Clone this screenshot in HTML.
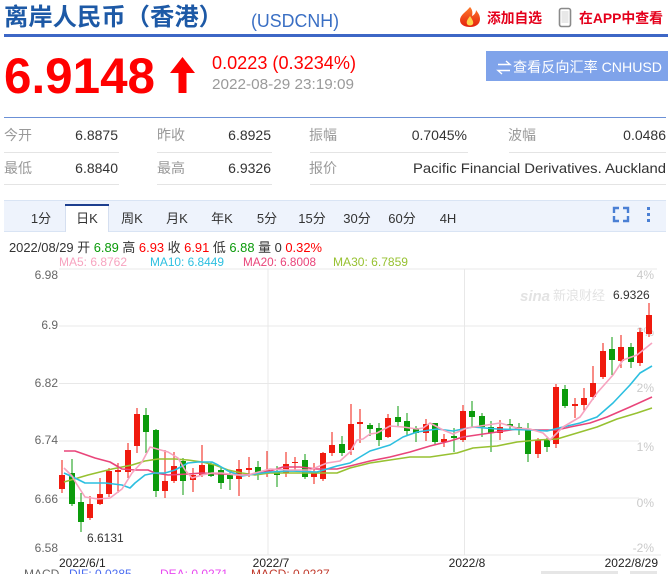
<!DOCTYPE html>
<html><head><meta charset="utf-8">
<style>
html,body{margin:0;padding:0;background:#fff;}
body{width:670px;height:574px;overflow:hidden;position:relative;}
svg{position:absolute;left:0;top:0;}
text{font-family:"Liberation Sans","Noto Sans CJK SC",sans-serif;}
</style></head>
<body>
<svg width="670" height="574" viewBox="0 0 670 574" xmlns="http://www.w3.org/2000/svg">
<defs>
<linearGradient id="fire" x1="0" y1="0" x2="0" y2="1">
<stop offset="0" stop-color="#ff7a2a"/><stop offset="1" stop-color="#e3200d"/>
</linearGradient>
</defs>
<!-- Header -->
<text x="4" y="25" font-size="24" font-weight="bold" fill="#1d59a6" textLength="219" lengthAdjust="spacingAndGlyphs">离岸人民币（香港）</text>
<text x="251" y="27" font-size="18" fill="#3a6fc4" textLength="88" lengthAdjust="spacingAndGlyphs">(USDCNH)</text>
<path d="M470,7 C466,12 460,15 460,20 C460,25 465,27 470,27 C476,27 480,24 480,19 C480,15 478,13 476,10 C476,13 474,15 472,16 C473,12 472,9 470,7 Z" fill="url(#fire)"/>
<path d="M470,16 C468,19 466,21 467,24 C468,26 472,26 473,24 C474,22 472,19 470,16 Z" fill="#ffd24a"/>
<text x="487" y="23" font-size="14" font-weight="bold" fill="#e4001b" textLength="55" lengthAdjust="spacingAndGlyphs">添加自选</text>
<rect x="559.5" y="8.5" width="11" height="18" rx="2" fill="none" stroke="#8a8a8a" stroke-width="1.6"/>
<rect x="561.5" y="11" width="7" height="12" fill="#e8e8e8"/>
<text x="579" y="23" font-size="14" font-weight="bold" fill="#e4001b" textLength="84" lengthAdjust="spacingAndGlyphs">在APP中查看</text>
<rect x="4" y="34" width="664" height="3" fill="#3d67c6"/>

<text x="4" y="93" font-size="50" font-weight="bold" fill="#f00" textLength="151" lengthAdjust="spacingAndGlyphs">6.9148</text>
<polygon points="182.5,57 195,73 186.5,73 186.5,93 178.5,93 178.5,73 170,73" fill="#f00"/>
<text x="212" y="69" font-size="18" fill="#f00" textLength="144" lengthAdjust="spacingAndGlyphs">0.0223 (0.3234%)</text>
<text x="212" y="89" font-size="15" fill="#9a9a9a" textLength="142" lengthAdjust="spacingAndGlyphs">2022-08-29 23:19:09</text>

<rect x="486" y="51" width="182" height="30" fill="#7fa3ea"/>
<path d="M498,64.5 H510 L506,61" fill="none" stroke="#fff" stroke-width="1.4"/>
<path d="M510,70.5 H498 L502,74" fill="none" stroke="#fff" stroke-width="1.4"/>
<text x="513" y="72" font-size="14" fill="#fff" textLength="149" lengthAdjust="spacingAndGlyphs">查看反向汇率 CNHUSD</text>

<rect x="4" y="117" width="662" height="1" fill="#6b90d6"/>
<!-- table -->
<g font-size="14" fill="#999">
<text x="4" y="140">今开</text><text x="157" y="140">昨收</text><text x="309" y="140">振幅</text><text x="508" y="140">波幅</text>
<text x="4" y="173">最低</text><text x="157" y="173">最高</text><text x="309" y="173">报价</text>
</g>
<g font-size="14" fill="#333" text-anchor="end">
<text x="118" y="140">6.8875</text><text x="271" y="140">6.8925</text><text x="467" y="140">0.7045%</text><text x="666" y="140">0.0486</text>
<text x="118" y="173">6.8840</text><text x="271" y="173">6.9326</text>
</g>
<text x="413" y="173" font-size="14" fill="#333" textLength="253" lengthAdjust="spacingAndGlyphs">Pacific Financial Derivatives. Auckland</text>
<g fill="#e4e4e4">
<rect x="4" y="152" width="115" height="1"/><rect x="157" y="152" width="115" height="1"/><rect x="310" y="152" width="158" height="1"/><rect x="509" y="152" width="157" height="1"/>
<rect x="4" y="184" width="115" height="1"/><rect x="157" y="184" width="115" height="1"/><rect x="310" y="184" width="356" height="1"/>
</g>

<!-- tab bar -->
<rect x="4" y="201" width="662" height="31" fill="#eef3fc"/>
<rect x="4" y="200" width="662" height="1" fill="#d9e4f4"/>
<rect x="4" y="231" width="662" height="1" fill="#d9e4f4"/>
<rect x="65" y="204" width="44" height="28" fill="#fff"/>
<rect x="65" y="204" width="44" height="2" fill="#1d3f8f"/>
<rect x="65" y="206" width="1" height="26" fill="#d5dff0"/>
<rect x="108" y="206" width="1" height="26" fill="#d5dff0"/>
<g font-size="13" fill="#333" text-anchor="middle">
<text x="41" y="223">1分</text><text x="87" y="223">日K</text><text x="132" y="223">周K</text><text x="177" y="223">月K</text><text x="222" y="223">年K</text>
<text x="267" y="223">5分</text><text x="312" y="223">15分</text><text x="357" y="223">30分</text><text x="402" y="223">60分</text><text x="448" y="223">4H</text>
</g>
<g fill="none" stroke="#4a7fd4" stroke-width="2.4">
<path d="M614,213 V208 H619"/><path d="M623,208 H628 V213"/><path d="M614,216 V221 H619"/><path d="M623,221 H628 V216"/>
</g>
<g fill="#4a7fd4"><rect x="647" y="207" width="3" height="3"/><rect x="647" y="213" width="3" height="3"/><rect x="647" y="219" width="3" height="3"/></g>

<!-- info line -->
<text x="9" y="252" font-size="13" fill="#333" textLength="313" lengthAdjust="spacingAndGlyphs">2022/08/29 开 <tspan fill="#0a9a0a">6.89</tspan> 高 <tspan fill="#f00">6.93</tspan> 收 <tspan fill="#f00">6.91</tspan> 低 <tspan fill="#0a9a0a">6.88</tspan> 量 0 <tspan fill="#f00">0.32%</tspan></text>
<g font-size="12">
<text x="59" y="266" fill="#f7a3bf" textLength="68" lengthAdjust="spacingAndGlyphs">MA5: 6.8762</text>
<text x="150" y="266" fill="#2cbfe0" textLength="74" lengthAdjust="spacingAndGlyphs">MA10: 6.8449</text>
<text x="243" y="266" fill="#e9457a" textLength="73" lengthAdjust="spacingAndGlyphs">MA20: 6.8008</text>
<text x="333" y="266" fill="#97c131" textLength="75" lengthAdjust="spacingAndGlyphs">MA30: 6.7859</text>
</g>

<!-- grid -->
<g fill="#e8e8e8">
<rect x="59" y="268.5" width="598" height="1"/>
<rect x="59" y="325.5" width="580" height="1"/>
<rect x="59" y="383" width="580" height="1"/>
<rect x="59" y="440.5" width="580" height="1"/>
<rect x="59" y="497.5" width="580" height="1"/>
<rect x="59" y="554.5" width="602" height="1"/>
<rect x="267.5" y="269" width="1" height="286"/>
<rect x="464" y="269" width="1" height="286"/>
</g>
<g font-size="12" fill="#666" text-anchor="end">
<text x="58" y="279">6.98</text><text x="58" y="329">6.9</text><text x="58" y="387">6.82</text><text x="58" y="444">6.74</text><text x="58" y="503">6.66</text><text x="58" y="552">6.58</text>
</g>
<g font-size="12" fill="#cacaca" text-anchor="end">
<text x="654" y="279">4%</text><text x="654" y="336">3%</text><text x="654" y="392">2%</text><text x="654" y="451">1%</text><text x="654" y="507">0%</text><text x="654" y="552">-2%</text>
</g>
<text x="520" y="301" font-size="15" font-style="italic" font-weight="bold" fill="#e3e3e3">sina</text>
<text x="553" y="300" font-size="13" fill="#e3e3e3">新浪财经</text>

<!-- candles -->
<g shape-rendering="crispEdges">
<g fill="#f01a0e">
<rect x="61.5" y="460" width="1" height="33"/><rect x="59" y="475" width="6" height="14"/>
<rect x="89.5" y="496" width="1" height="24"/><rect x="87" y="504" width="6" height="14"/>
<rect x="99.5" y="478" width="1" height="27"/><rect x="97" y="494" width="6" height="10"/>
<rect x="108.5" y="468" width="1" height="29"/><rect x="106" y="471" width="6" height="23"/>
<rect x="117.5" y="463" width="1" height="30"/><rect x="115" y="470" width="6" height="2"/>
<rect x="127.5" y="443" width="1" height="35"/><rect x="125" y="450" width="6" height="22"/>
<rect x="136.5" y="408" width="1" height="45"/><rect x="134" y="414" width="6" height="32"/>
<rect x="164.5" y="450" width="1" height="48"/><rect x="162" y="481" width="6" height="10"/>
<rect x="173.5" y="452" width="1" height="31"/><rect x="171" y="466" width="6" height="15"/>
<rect x="192.5" y="468" width="1" height="24"/><rect x="190" y="475" width="6" height="5"/>
<rect x="201.5" y="445" width="1" height="32"/><rect x="199" y="465" width="6" height="10"/>
<rect x="238.5" y="460" width="1" height="36"/><rect x="236" y="469" width="6" height="10"/>
<rect x="248.5" y="457" width="1" height="20"/><rect x="246" y="468" width="6" height="2"/>
<rect x="266.5" y="451" width="1" height="26"/><rect x="264" y="470" width="6" height="3"/>
<rect x="285.5" y="452" width="1" height="25"/><rect x="283" y="464" width="6" height="9"/>
<rect x="294.5" y="457" width="1" height="14"/><rect x="292" y="462" width="6" height="1"/>
<rect x="313.5" y="463" width="1" height="21"/><rect x="311" y="473" width="6" height="4"/>
<rect x="322.5" y="452" width="1" height="29"/><rect x="320" y="453" width="6" height="26"/>
<rect x="331.5" y="432" width="1" height="24"/><rect x="329" y="445" width="6" height="8"/>
<rect x="350.5" y="404" width="1" height="51"/><rect x="348" y="424" width="6" height="26"/>
<rect x="359.5" y="409" width="1" height="34"/><rect x="357" y="422" width="6" height="2"/>
<rect x="387.5" y="414" width="1" height="24"/><rect x="385" y="418" width="6" height="19"/>
<rect x="425.5" y="419" width="1" height="22"/><rect x="423" y="424" width="6" height="9"/>
<rect x="443.5" y="434" width="1" height="13"/><rect x="441" y="439" width="6" height="3"/>
<rect x="462.5" y="405" width="1" height="37"/><rect x="460" y="411" width="6" height="29"/>
<rect x="499.5" y="420" width="1" height="20"/><rect x="497" y="427" width="6" height="6"/>
<rect x="537.5" y="438" width="1" height="20"/><rect x="535" y="440" width="6" height="14"/>
<rect x="555.5" y="384" width="1" height="64"/><rect x="553" y="387" width="6" height="57"/>
<rect x="574.5" y="398" width="1" height="20"/><rect x="572" y="404" width="6" height="2"/>
<rect x="583.5" y="388" width="1" height="24"/><rect x="581" y="398" width="6" height="7"/>
<rect x="592.5" y="366" width="1" height="34"/><rect x="590" y="383" width="6" height="14"/>
<rect x="602.5" y="343" width="1" height="36"/><rect x="600" y="351" width="6" height="26"/>
<rect x="620.5" y="335" width="1" height="33"/><rect x="618" y="347" width="6" height="14"/>
<rect x="639.5" y="328" width="1" height="38"/><rect x="637" y="332" width="6" height="31"/>
<rect x="648.5" y="303" width="1" height="34"/><rect x="646" y="315" width="6" height="19"/>
</g>
<g fill="#0c9b0c">
<rect x="71.5" y="459" width="1" height="47"/><rect x="69" y="473" width="6" height="31"/>
<rect x="80.5" y="493" width="1" height="39"/><rect x="78" y="502" width="6" height="20"/>
<rect x="145.5" y="408" width="1" height="45"/><rect x="143" y="415" width="6" height="17"/>
<rect x="155.5" y="429" width="1" height="68"/><rect x="153" y="430" width="6" height="61"/>
<rect x="182.5" y="458" width="1" height="37"/><rect x="180" y="461" width="6" height="20"/>
<rect x="210.5" y="462" width="1" height="15"/><rect x="208" y="464" width="6" height="12"/>
<rect x="220.5" y="468" width="1" height="21"/><rect x="218" y="470" width="6" height="13"/>
<rect x="229.5" y="470" width="1" height="20"/><rect x="227" y="474" width="6" height="5"/>
<rect x="257.5" y="461" width="1" height="19"/><rect x="255" y="467" width="6" height="6"/>
<rect x="276.5" y="466" width="1" height="21"/><rect x="274" y="472" width="6" height="3"/>
<rect x="304.5" y="454" width="1" height="25"/><rect x="302" y="460" width="6" height="17"/>
<rect x="341.5" y="436" width="1" height="20"/><rect x="339" y="444" width="6" height="9"/>
<rect x="369.5" y="423" width="1" height="13"/><rect x="367" y="425" width="6" height="4"/>
<rect x="378.5" y="423" width="1" height="23"/><rect x="376" y="428" width="6" height="12"/>
<rect x="397.5" y="406" width="1" height="20"/><rect x="395" y="417" width="6" height="5"/>
<rect x="406.5" y="413" width="1" height="23"/><rect x="404" y="421" width="6" height="10"/>
<rect x="415.5" y="426" width="1" height="16"/><rect x="413" y="428" width="6" height="5"/>
<rect x="434.5" y="423" width="1" height="21"/><rect x="432" y="423" width="6" height="19"/>
<rect x="453.5" y="428" width="1" height="24"/><rect x="451" y="436" width="6" height="2"/>
<rect x="471.5" y="401" width="1" height="27"/><rect x="469" y="411" width="6" height="6"/>
<rect x="481.5" y="413" width="1" height="24"/><rect x="479" y="416" width="6" height="11"/>
<rect x="490.5" y="421" width="1" height="31"/><rect x="488" y="427" width="6" height="6"/>
<rect x="509.5" y="419" width="1" height="11"/><rect x="507" y="424" width="6" height="2"/>
<rect x="518.5" y="423" width="1" height="12"/><rect x="516" y="427" width="6" height="3"/>
<rect x="527.5" y="423" width="1" height="39"/><rect x="525" y="430" width="6" height="24"/>
<rect x="546.5" y="438" width="1" height="14"/><rect x="544" y="440" width="6" height="7"/>
<rect x="564.5" y="385" width="1" height="23"/><rect x="562" y="389" width="6" height="17"/>
<rect x="611.5" y="337" width="1" height="38"/><rect x="609" y="349" width="6" height="11"/>
<rect x="630.5" y="343" width="1" height="25"/><rect x="628" y="347" width="6" height="15"/>
</g>
</g>

<!-- MA lines -->
<g fill="none" stroke-width="1.6" stroke-linejoin="round">
<polyline stroke="#97c131" points="64,482 88,475 112,469 132,465 145,461 158,459 175,459 188,460 202,462 215,465 228,470 242,473 255,475 270,473 290,473 317,473 337,473 350,468 370,463 390,460 410,457 430,457 457,453 473,448 497,446 517,442 537,440 557,439 577,433 597,427 617,419 637,413 652,408"/>
<polyline stroke="#e9457a" points="64,451 75,451 95,458 110,462 122,469 135,470 148,470 155,473 168,475 188,474 202,473 222,474 242,475 255,474 270,471 283,467 300,467 317,469 337,469 350,466 370,461 390,457 410,452 430,446 450,441 463,437 497,432 517,429 537,430 557,430 570,427 590,423 607,417 630,407 652,397"/>
<polyline stroke="#2cbfe0" points="64,473 75,478 85,483 105,483 122,485 130,488 135,483 145,475 155,473 165,473 175,470 188,463 198,462 212,462 218,465 228,471 242,476 255,474 270,472 290,471 317,472 337,466 350,463 370,451 390,445 403,437 417,432 437,429 453,431 473,427 497,429 530,430 547,431 563,427 580,423 597,417 613,403 630,385 640,373 652,366"/>
<polyline stroke="#f7a3bf" points="64,468 72,476 76,483 85,497 98,499 110,498 122,489 132,473 142,462 150,447 168,452 178,458 185,470 192,478 202,475 212,473 222,473 235,475 248,475 255,473 270,469 290,470 310,470 327,463 340,461 350,452 357,440 363,439 370,434 377,433 390,426 403,427 417,429 423,428 430,423 443,430 453,434 467,428 487,425 500,423 517,428 530,429 543,433 550,440 563,427 580,417 597,393 613,375 623,360 637,355 652,343"/>
</g>

<text x="87" y="542" font-size="12" fill="#333">6.6131</text>
<text x="613" y="299" font-size="12" fill="#333">6.9326</text>

<!-- x axis -->
<g font-size="12" fill="#222">
<text x="59" y="567">2022/6/1</text>
<text x="271" y="567" text-anchor="middle">2022/7</text>
<text x="467" y="567" text-anchor="middle">2022/8</text>
<text x="658" y="567" text-anchor="end">2022/8/29</text>
</g>

<!-- MACD (cut) -->
<g font-size="12">
<text x="24" y="578" fill="#666">MACD</text>
<text x="69" y="578" fill="#4a6cf0">DIF: 0.0285</text>
<text x="160" y="578" fill="#e848f0">DEA: 0.0271</text>
<text x="251" y="578" fill="#c0392b">MACD: 0.0227</text>
</g>
<rect x="541" y="571" width="77" height="3" fill="#e6e6e6"/>
<rect x="630" y="571" width="27" height="3" fill="#e6e6e6"/>
</svg>
</body></html>
